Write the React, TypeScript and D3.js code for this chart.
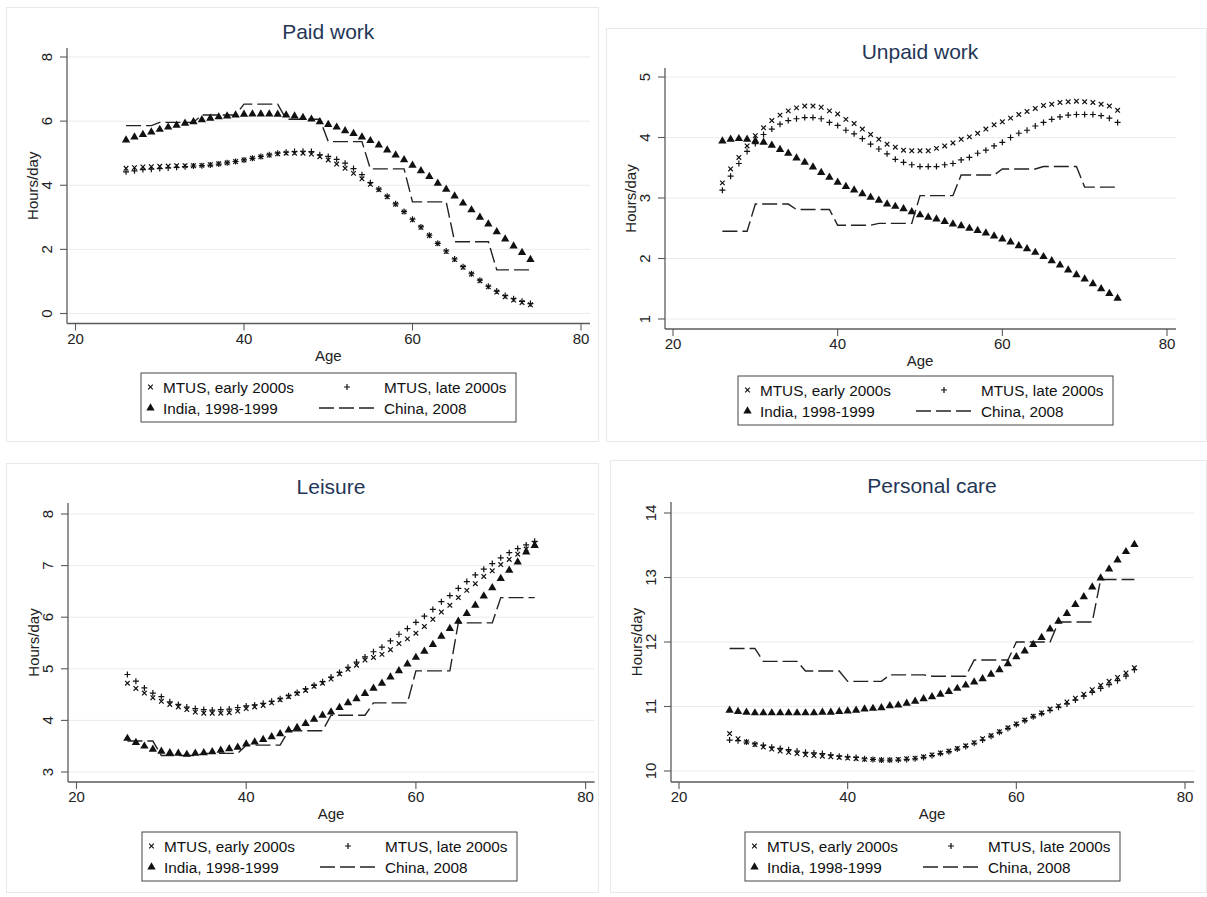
import React from 'react';
import * as d3 from 'd3';

const AGES = [26, 27, 28, 29, 30, 31, 32, 33, 34, 35, 36, 37, 38, 39, 40, 41, 42, 43, 44, 45, 46, 47, 48, 49, 50, 51, 52, 53, 54, 55, 56, 57, 58, 59, 60, 61, 62, 63, 64, 65, 66, 67, 68, 69, 70, 71, 72, 73, 74];
const X_TICKS = [20, 40, 60, 80];

const LEGEND_LABELS = ['MTUS, early 2000s', 'MTUS, late 2000s', 'India, 1998-1999', 'China, 2008'];

// Paid work
const PAID_EARLY = [4.53, 4.55, 4.57, 4.58, 4.59, 4.6, 4.61, 4.61, 4.61, 4.62, 4.64, 4.67, 4.7, 4.74, 4.79, 4.84, 4.89, 4.94, 4.98, 5.0, 5.0, 5.0, 4.97, 4.89, 4.79, 4.66, 4.53, 4.37, 4.2, 4.03, 3.86, 3.64, 3.41, 3.17, 2.92, 2.69, 2.43, 2.18, 1.93, 1.68, 1.44, 1.23, 1.02, 0.83, 0.67, 0.52, 0.42, 0.34, 0.27];
const PAID_LATE = [4.42, 4.45, 4.49, 4.5, 4.52, 4.54, 4.56, 4.58, 4.6, 4.61, 4.63, 4.66, 4.7, 4.74, 4.79, 4.84, 4.9, 4.95, 5.0, 5.03, 5.05, 5.06, 5.05, 4.95, 4.9, 4.81, 4.69, 4.52, 4.33, 4.08, 3.88, 3.66, 3.42, 3.18, 2.94, 2.7, 2.44, 2.19, 1.95, 1.7, 1.46, 1.24, 1.04, 0.85, 0.7, 0.56, 0.46, 0.38, 0.31];
const PAID_INDIA = [5.41, 5.5, 5.58, 5.66, 5.74, 5.81, 5.87, 5.93, 5.98, 6.04, 6.09, 6.13, 6.16, 6.19, 6.21, 6.22, 6.22, 6.22, 6.21, 6.19, 6.16, 6.11, 6.06, 5.98, 5.89, 5.81, 5.7, 5.61, 5.5, 5.39, 5.25, 5.1, 4.94, 4.79, 4.62, 4.45, 4.27, 4.06, 3.87, 3.66, 3.44, 3.23, 3.0, 2.79, 2.55, 2.32, 2.1, 1.9, 1.68];
const PAID_CHINA = [5.86, 5.86, 5.86, 5.86, 5.96, 5.96, 5.96, 5.96, 5.96, 6.19, 6.19, 6.19, 6.19, 6.19, 6.53, 6.53, 6.53, 6.53, 6.53, 6.06, 6.06, 6.06, 6.06, 6.06, 5.36, 5.36, 5.36, 5.36, 5.36, 4.51, 4.51, 4.51, 4.51, 4.51, 3.48, 3.48, 3.48, 3.48, 3.48, 2.24, 2.24, 2.24, 2.24, 2.24, 1.36, 1.36, 1.36, 1.36, 1.36];
const PAID_Y_TICKS = [0, 2, 4, 6, 8];

// Unpaid work
const UNPAID_EARLY = [3.25, 3.48, 3.67, 3.86, 4.03, 4.16, 4.28, 4.37, 4.44, 4.49, 4.52, 4.52, 4.5, 4.44, 4.39, 4.3, 4.23, 4.14, 4.05, 3.97, 3.89, 3.84, 3.79, 3.78, 3.78, 3.78, 3.82, 3.86, 3.91, 3.97, 4.01, 4.07, 4.14, 4.21, 4.26, 4.32, 4.38, 4.43, 4.48, 4.53, 4.55, 4.58, 4.59, 4.6, 4.59, 4.58, 4.55, 4.52, 4.45];
const UNPAID_LATE = [3.13, 3.36, 3.57, 3.77, 3.9, 4.05, 4.14, 4.22, 4.28, 4.31, 4.33, 4.33, 4.31, 4.25, 4.2, 4.12, 4.06, 3.98, 3.89, 3.81, 3.73, 3.64, 3.59, 3.55, 3.52, 3.52, 3.52, 3.55, 3.57, 3.63, 3.67, 3.74, 3.79, 3.86, 3.92, 4.0, 4.07, 4.12, 4.19, 4.25, 4.3, 4.34, 4.37, 4.38, 4.38, 4.38, 4.36, 4.32, 4.25];
const UNPAID_INDIA = [3.94, 3.97, 3.98, 3.97, 3.94, 3.92, 3.87, 3.8, 3.74, 3.66, 3.59, 3.51, 3.42, 3.34, 3.26, 3.19, 3.13, 3.07, 3.01, 2.96, 2.9, 2.86, 2.82, 2.77, 2.72, 2.68, 2.65, 2.61, 2.57, 2.54, 2.5, 2.46, 2.42, 2.37, 2.32, 2.27, 2.21, 2.16, 2.1, 2.03, 1.96, 1.89, 1.81, 1.73, 1.66, 1.58, 1.5, 1.42, 1.34];
const UNPAID_CHINA = [2.45, 2.45, 2.45, 2.45, 2.9, 2.9, 2.9, 2.9, 2.9, 2.81, 2.81, 2.81, 2.81, 2.81, 2.55, 2.55, 2.55, 2.55, 2.55, 2.58, 2.58, 2.58, 2.58, 2.58, 3.04, 3.04, 3.04, 3.04, 3.04, 3.38, 3.38, 3.38, 3.38, 3.38, 3.48, 3.48, 3.48, 3.48, 3.48, 3.52, 3.52, 3.52, 3.52, 3.52, 3.18, 3.18, 3.18, 3.18, 3.18];
const UNPAID_Y_TICKS = [1, 2, 3, 4, 5];

// Leisure
const LEIS_EARLY = [4.72, 4.62, 4.53, 4.44, 4.37, 4.31, 4.26, 4.21, 4.16, 4.14, 4.14, 4.14, 4.15, 4.18, 4.23, 4.26, 4.29, 4.34, 4.4, 4.46, 4.52, 4.58, 4.66, 4.72, 4.8, 4.9, 4.99, 5.07, 5.17, 5.22, 5.28, 5.37, 5.49, 5.58, 5.69, 5.82, 5.96, 6.1, 6.23, 6.38, 6.52, 6.65, 6.79, 6.9, 7.02, 7.12, 7.22, 7.32, 7.43];
const LEIS_LATE = [4.89, 4.76, 4.63, 4.53, 4.46, 4.36, 4.31, 4.26, 4.23, 4.21, 4.2, 4.21, 4.22, 4.25, 4.28, 4.3, 4.33, 4.37, 4.42, 4.48, 4.54, 4.61, 4.68, 4.75, 4.84, 4.93, 5.03, 5.13, 5.23, 5.33, 5.42, 5.54, 5.67, 5.78, 5.9, 6.02, 6.15, 6.3, 6.42, 6.56, 6.69, 6.82, 6.93, 7.04, 7.15, 7.25, 7.33, 7.4, 7.47];
const LEIS_INDIA = [3.65, 3.57, 3.5, 3.44, 3.4, 3.37, 3.36, 3.34, 3.36, 3.37, 3.39, 3.42, 3.45, 3.48, 3.54, 3.58, 3.63, 3.68, 3.74, 3.81, 3.86, 3.94, 4.02, 4.1, 4.16, 4.25, 4.34, 4.42, 4.52, 4.62, 4.72, 4.84, 4.96, 5.09, 5.22, 5.34, 5.47, 5.63, 5.78, 5.92, 6.07, 6.23, 6.41, 6.57, 6.75, 6.91, 7.07, 7.26, 7.39];
const LEIS_CHINA = [3.6, 3.6, 3.6, 3.6, 3.32, 3.32, 3.32, 3.32, 3.32, 3.36, 3.36, 3.36, 3.36, 3.36, 3.52, 3.52, 3.52, 3.52, 3.52, 3.8, 3.8, 3.8, 3.8, 3.8, 4.1, 4.1, 4.1, 4.1, 4.1, 4.34, 4.34, 4.34, 4.34, 4.34, 4.96, 4.96, 4.96, 4.96, 4.96, 5.89, 5.89, 5.89, 5.89, 5.89, 6.38, 6.38, 6.38, 6.38, 6.38];
const LEIS_Y_TICKS = [3, 4, 5, 6, 7, 8];

// Personal care
const PC_EARLY = [10.58, 10.5, 10.45, 10.41, 10.37, 10.34, 10.31, 10.29, 10.27, 10.25, 10.24, 10.23, 10.22, 10.21, 10.2, 10.19, 10.18, 10.18, 10.17, 10.17, 10.18, 10.19, 10.2, 10.22, 10.25, 10.28, 10.31, 10.35, 10.39, 10.44, 10.5, 10.55, 10.61, 10.67, 10.73, 10.79, 10.85, 10.9, 10.96, 11.01, 11.07, 11.13, 11.19, 11.26, 11.33, 11.39, 11.45, 11.52, 11.6];
const PC_LATE = [10.48, 10.47, 10.45, 10.42, 10.4, 10.37, 10.35, 10.33, 10.31, 10.29, 10.28, 10.27, 10.25, 10.23, 10.22, 10.21, 10.19, 10.18, 10.17, 10.17, 10.17, 10.18, 10.19, 10.21, 10.24, 10.27, 10.3, 10.34, 10.38, 10.43, 10.48, 10.54, 10.6, 10.66, 10.72, 10.78, 10.84, 10.89, 10.94, 10.99, 11.04, 11.1, 11.16, 11.22, 11.28, 11.34, 11.4, 11.47, 11.57];
const PC_INDIA = [10.94, 10.92, 10.91, 10.9, 10.9, 10.9, 10.9, 10.9, 10.9, 10.9, 10.9, 10.91, 10.91, 10.92, 10.93, 10.94, 10.96, 10.97, 10.98, 11.01, 11.02, 11.05, 11.08, 11.12, 11.15, 11.19, 11.23, 11.28, 11.33, 11.38, 11.43, 11.5, 11.57, 11.66, 11.77, 11.86, 11.96, 12.07, 12.2, 12.32, 12.44, 12.58, 12.7, 12.85, 12.99, 13.13, 13.27, 13.4, 13.51];
const PC_CHINA = [11.9, 11.9, 11.9, 11.9, 11.7, 11.7, 11.7, 11.7, 11.7, 11.55, 11.55, 11.55, 11.55, 11.55, 11.39, 11.39, 11.39, 11.39, 11.39, 11.49, 11.49, 11.49, 11.49, 11.49, 11.47, 11.47, 11.47, 11.47, 11.47, 11.72, 11.72, 11.72, 11.72, 11.72, 12.0, 12.0, 12.0, 12.0, 12.0, 12.31, 12.31, 12.31, 12.31, 12.31, 12.97, 12.97, 12.97, 12.97, 12.97];
const PC_Y_TICKS = [10, 11, 12, 13, 14];

const FONT = '"Liberation Sans", Arial, Helvetica, sans-serif';
const TITLE_COLOR = '#243656';
const AXIS_COLOR = '#5a5a5a';
const GRID_COLOR = '#ebebeb';
const INK = '#111';

type PanelSpec = {
  title: string;
  early: number[];
  late: number[];
  india: number[];
  china: number[];
  yTicks: number[];
  ax: number; ay: number; top: number;
  x20: number; x80: number;
  yLoPx: number; yHiPx: number;
  legendX: number; legendY: number;
  border: [number, number, number, number];
};

const PANELS: PanelSpec[] = [
  { title: 'Paid work', early: PAID_EARLY, late: PAID_LATE, india: PAID_INDIA, china: PAID_CHINA, yTicks: PAID_Y_TICKS,
    ax: 67, ay: 323.5, top: 48, x20: 75.5, x80: 581, yLoPx: 313.5, yHiPx: 57, legendX: 141, legendY: 373, border: [6.5, 7.5, 592, 434] },
  { title: 'Unpaid work', early: UNPAID_EARLY, late: UNPAID_LATE, india: UNPAID_INDIA, china: UNPAID_CHINA, yTicks: UNPAID_Y_TICKS,
    ax: 665, ay: 329, top: 68, x20: 673, x80: 1167, yLoPx: 319, yHiPx: 77, legendX: 738, legendY: 376, border: [606.5, 28.5, 600, 413] },
  { title: 'Leisure', early: LEIS_EARLY, late: LEIS_LATE, india: LEIS_INDIA, china: LEIS_CHINA, yTicks: LEIS_Y_TICKS,
    ax: 68, ay: 782, top: 503, x20: 76.5, x80: 585.6, yLoPx: 772, yHiPx: 514, legendX: 142, legendY: 832, border: [6.5, 463.5, 592, 429] },
  { title: 'Personal care', early: PC_EARLY, late: PC_LATE, india: PC_INDIA, china: PC_CHINA, yTicks: PC_Y_TICKS,
    ax: 671, ay: 782, top: 502, x20: 679, x80: 1185, yLoPx: 771, yHiPx: 513, legendX: 745, legendY: 832, border: [610.5, 460.5, 596, 432] },
];

const crossPath = (cx: number, cy: number, s = 2.3) =>
  `M${cx - s},${cy - s}L${cx + s},${cy + s}M${cx - s},${cy + s}L${cx + s},${cy - s}`;
const plusPath = (cx: number, cy: number, s = 3) =>
  `M${cx - s},${cy}L${cx + s},${cy}M${cx},${cy - s}L${cx},${cy + s}`;
const triPath = d3.symbol().type(d3.symbolTriangle).size(30)() as string;

function Panel({ p }: { p: PanelSpec }) {
  const yLo = p.yTicks[0];
  const yHi = p.yTicks[p.yTicks.length - 1];
  const x = d3.scaleLinear().domain([20, 80]).range([p.x20, p.x80]);
  const y = d3.scaleLinear().domain([yLo, yHi]).range([p.yLoPx, p.yHiPx]);
  const xEnd = p.x80 + 9;
  const cx = x(50);
  const line = d3.line<number>().x((_, i) => x(AGES[i])).y((d) => y(d));
  const L = p.legendX;
  const T = p.legendY;
  const r1 = T + 14;
  const r2 = T + 35;
  return (
    <g>
      <rect x={p.border[0]} y={p.border[1]} width={p.border[2]} height={p.border[3]} fill="#fff" stroke="#e9e9e9" strokeWidth={1} />
      <text x={cx} y={p.top - 9} textAnchor="middle" fontSize={21} fill={TITLE_COLOR} fontFamily={FONT}>{p.title}</text>
      {p.yTicks.map((t) => (
        <line key={'g' + t} x1={p.ax} x2={xEnd} y1={y(t)} y2={y(t)} stroke={GRID_COLOR} strokeWidth={1} />
      ))}
      <line x1={p.ax} x2={p.ax} y1={p.top} y2={p.ay} stroke={AXIS_COLOR} strokeWidth={1.3} />
      <line x1={p.ax} x2={xEnd} y1={p.ay} y2={p.ay} stroke={AXIS_COLOR} strokeWidth={1.3} />
      {p.yTicks.map((t) => (
        <g key={'yt' + t}>
          <line x1={p.ax - 7} x2={p.ax} y1={y(t)} y2={y(t)} stroke={AXIS_COLOR} strokeWidth={1.1} />
          <text transform={`translate(${p.ax - 21},${y(t)}) rotate(-90)`} textAnchor="middle" dominantBaseline="central" fontSize={15} fill="#222" fontFamily={FONT}>{t}</text>
        </g>
      ))}
      {X_TICKS.map((t) => (
        <g key={'xt' + t}>
          <line x1={x(t)} x2={x(t)} y1={p.ay} y2={p.ay + 7} stroke={AXIS_COLOR} strokeWidth={1.1} />
          <text x={x(t)} y={p.ay + 20} textAnchor="middle" fontSize={15} fill="#222" fontFamily={FONT}>{t}</text>
        </g>
      ))}
      <text x={cx} y={p.ay + 37} textAnchor="middle" fontSize={15} fill="#222" fontFamily={FONT}>Age</text>
      <text transform={`translate(${p.ax - 34.5},${(p.top + p.ay) / 2}) rotate(-90)`} textAnchor="middle" dominantBaseline="central" fontSize={15} fill="#222" fontFamily={FONT}>Hours/day</text>

      <path d={line(p.china) || ''} fill="none" stroke="#222" strokeWidth={1.4} strokeDasharray="15,5" />
      {p.india.map((v, i) => (
        <path key={'in' + i} d={triPath} transform={`translate(${x(AGES[i])},${y(v)})`} fill={INK} />
      ))}
      {p.early.map((v, i) => (
        <path key={'e' + i} d={crossPath(x(AGES[i]), y(v))} stroke={INK} strokeWidth={1.2} fill="none" />
      ))}
      {p.late.map((v, i) => (
        <path key={'l' + i} d={plusPath(x(AGES[i]), y(v))} stroke={INK} strokeWidth={1.2} fill="none" />
      ))}

      <rect x={L} y={T} width={375} height={49} fill="#fff" stroke="#444" strokeWidth={1} />
      <path d={crossPath(L + 9.5, r1)} stroke={INK} strokeWidth={1.2} fill="none" />
      <text x={L + 22} y={r1} dominantBaseline="central" fontSize={15.3} fill="#111" fontFamily={FONT}>{LEGEND_LABELS[0]}</text>
      <path d={plusPath(L + 206, r1)} stroke={INK} strokeWidth={1.2} fill="none" />
      <text x={L + 243} y={r1} dominantBaseline="central" fontSize={15.3} fill="#111" fontFamily={FONT}>{LEGEND_LABELS[1]}</text>
      <path d={triPath} transform={`translate(${L + 9.5},${r2})`} fill={INK} />
      <text x={L + 22} y={r2} dominantBaseline="central" fontSize={15.3} fill="#111" fontFamily={FONT}>{LEGEND_LABELS[2]}</text>
      <line x1={L + 178} x2={L + 234} y1={r2} y2={r2} stroke="#222" strokeWidth={1.4} strokeDasharray="15,5" />
      <text x={L + 243} y={r2} dominantBaseline="central" fontSize={15.3} fill="#111" fontFamily={FONT}>{LEGEND_LABELS[3]}</text>
    </g>
  );
}

export default function App() {
  return (
    <svg width={1207} height={897} style={{ position: 'absolute', left: 0, top: 0, display: 'block', background: '#fff' }}>
      <rect x={0} y={0} width={1207} height={897} fill="#fff" />
      {PANELS.map((p) => (
        <Panel key={p.title} p={p} />
      ))}
    </svg>
  );
}
